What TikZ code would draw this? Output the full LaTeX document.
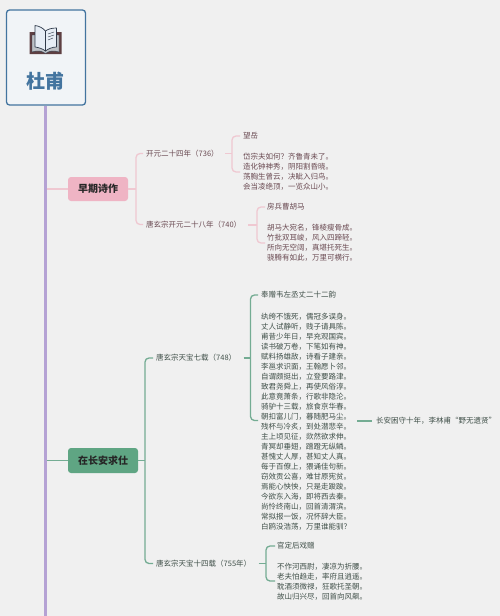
\documentclass[tikz,border=0pt]{standalone}
\usepackage{fontspec}
\setmainfont{Noto Sans CJK SC}
\definecolor{bgc}{HTML}{F0F0F0}
\definecolor{rootb}{HTML}{43749F}
\definecolor{rootf}{HTML}{F1F4F7}
\definecolor{trunkc}{HTML}{B5A2D4}
\definecolor{pinkl}{HTML}{EFC8D1}
\definecolor{pinkb}{HTML}{EFB4C4}
\definecolor{pinkt}{HTML}{6A4A52}
\definecolor{greenl}{HTML}{74AC93}
\definecolor{greenb}{HTML}{5FA583}
\definecolor{greent}{HTML}{3F4F48}
\definecolor{bookd}{HTML}{5E3F42}
\definecolor{bookl}{HTML}{E6EDF5}
\definecolor{bookk}{HTML}{2F3A4A}
\tikzset{
  x=1pt,y=1pt,
  branchbox/.style={rounded corners=3pt,font=\fontsize{10}{12}\selectfont\bfseries,text=black!85,anchor=center,inner sep=0pt},
  leaf/.style={anchor=west,inner sep=0pt,font=\fontsize{7.5}{10}\selectfont},
  poem/.style={anchor=north west,inner sep=0pt,align=left,font=\fontsize{7.5}{10}\selectfont},
  pinkline/.style={draw=pinkl,line width=1.3pt,rounded corners=4pt},
  greenline/.style={draw=greenl,line width=1.3pt,rounded corners=4pt},
}
\begin{document}
\begin{tikzpicture}
\useasboundingbox (0,0) rectangle (500,-616);
\fill[bgc] (0,0) rectangle (500,-616);
% nodes
\node[draw=rootb,fill=rootf,line width=1.3pt,rounded corners=3pt,minimum width=79pt,minimum height=95pt,inner sep=0pt] (root) at (46,-57.5) {};
\node[inner sep=0pt,text=rootb,font=\fontsize{19}{20}\selectfont\bfseries] (title) at (45.5,-81.5) {杜甫};
\coordinate (trunkend) at (45.5,-616);
\draw[trunkc,line width=2.2pt] (root.south -| trunkend) -- (trunkend);
\node[branchbox,fill=pinkb,minimum width=60pt,minimum height=24pt] (early) at (98,-189) {早期诗作};
\node[branchbox,fill=greenb,minimum width=70pt,minimum height=25pt] (changan) at (103,-460.5) {在长安求仕};
\coordinate (tearly) at (46.6,-189);
\coordinate (tchangan) at (46.6,-460.5);
\draw[pinkline] (tearly) -- (early);
\draw[greenline] (tchangan) -- (changan);
% early leaves
\begin{scope}[text=pinkt]
\node[leaf] (y736) at (146,-153.5) {开元二十四年（736）};
\node[leaf] (y740) at (146,-224.5) {唐玄宗开元二十八年（740）};
\node[leaf] (t1) at (243,-136) {望岳};
\node[poem] (p1) at (243,-153.3) {岱宗夫如何？齐鲁青未了。\\造化钟神秀，阴阳割昏晓。\\荡胸生曾云，决眦入归鸟。\\会当凌绝顶，一览众山小。};
\node[leaf] (t2) at (267,-207) {房兵曹胡马};
\node[poem] (p2) at (267,-224.3) {胡马大宛名，锋棱瘦骨成。\\竹批双耳峻，风入四蹄轻。\\所向无空阔，真堪托死生。\\骁腾有如此，万里可横行。};
\end{scope}
\begin{scope}[text=greent]
\node[leaf] (y748) at (156,-358) {唐玄宗天宝七载（748）};
\node[leaf] (y755) at (156,-563.5) {唐玄宗天宝十四载（755年）};
\node[leaf] (t3) at (261,-295) {奉赠韦左丞丈二十二韵};
\node[poem] (p3) at (261,-313) {纨绔不饿死，儒冠多误身。\\丈人试静听，贱子请具陈。\\甫昔少年日，早充观国宾。\\读书破万卷，下笔如有神。\\赋料扬雄敌，诗看子建亲。\\李邕求识面，王翰愿卜邻。\\自谓颇挺出，立登要路津。\\致君尧舜上，再使风俗淳。\\此意竟萧条，行歌非隐沦。\\骑驴十三载，旅食京华春。\\朝扣富儿门，暮随肥马尘。\\残杯与冷炙，到处潜悲辛。\\主上顷见征，欻然欲求伸。\\青冥却垂翅，蹭蹬无纵鳞。\\甚愧丈人厚，甚知丈人真。\\每于百僚上，猥诵佳句新。\\窃效贡公喜，难甘原宪贫。\\焉能心怏怏，只是走踆踆。\\今欲东入海，即将西去秦。\\尚怜终南山，回首清渭滨。\\常拟报一饭，况怀辞大臣。\\白鸥没浩荡，万里谁能驯？};
\node[leaf] (note) at (376,-421) {长安困守十年，李林甫“野无遗贤”};
\node[leaf] (t4) at (277,-546) {官定后戏赠};
\node[poem] (p4) at (277,-563) {不作河西尉，凄凉为折腰。\\老夫怕趋走，率府且逍遥。\\耽酒须微禄，狂歌托圣朝。\\故山归兴尽，回首向风飙。};
\end{scope}
% connector coordinates
\coordinate (e1) at (136,-189);
\draw[pinkline] (early.east) -- (e1);
\draw[pinkline] (y736.west) ++(-3,0) -| (e1) |- ([xshift=-3pt]y740.west);
\coordinate (b1) at (232,-153.5);
\coordinate (b1b) at (240,-172);
\draw[pinkline] (225,-153.5) -- (b1);
\draw[pinkline] ([xshift=-3pt]t1.west) -| (b1) |- (b1b);
\coordinate (b2) at (257,-225);
\coordinate (b2b) at (265,-243);
\draw[pinkline] (248,-225) -- (b2);
\draw[pinkline] ([xshift=-2pt]t2.west) -| (b2) |- (b2b);
\coordinate (e2) at (145,-460.5);
\draw[greenline] (changan.east) -- (e2);
\draw[greenline] ([xshift=-3pt]y748.west) -| (e2) |- ([xshift=-3pt]y755.west);
\coordinate (b3) at (250.5,-358);
\coordinate (b3b) at (258,-420.5);
\draw[greenline] (243.5,-358) -- (b3);
\draw[greenline] ([xshift=-3pt]t3.west) -| (b3) |- (b3b);
\draw[greenline] (357,-421) -- ([xshift=-4pt]note.west);
\coordinate (b4) at (266,-563.5);
\coordinate (b4b) at (275,-581);
\draw[greenline] (258.5,-563.5) -- (b4);
\draw[greenline] ([xshift=-2pt]t4.west) -| (b4) |- (b4b);
% book icon
\begin{scope}[line join=round]
\fill[bookd] (29.5,-32) -- (34,-32) -- (57,-32) -- (61.5,-32) -- (61.5,-54) -- (29.5,-54) -- cycle;
\fill[bookl!60!gray,draw=bookk,line width=.4pt] (32,-35) -- (32,-52) .. controls (38,-50) and (42,-51) .. (45.5,-53.5) .. controls (49,-51) and (53,-50) .. (59,-52) -- (59,-35) -- cycle;
\fill[bookl,draw=bookk,line width=.7pt] (45.5,-31) .. controls (43,-28) and (39,-26) .. (35,-25.5) -- (35,-47) .. controls (39,-47.5) and (43,-49) .. (45.5,-51) -- cycle;
\fill[bookl,draw=bookk,line width=.7pt] (45.5,-31) .. controls (48,-29) and (52,-28) .. (56.5,-28) -- (56.5,-47) .. controls (52,-47) and (48,-49) .. (45.5,-51) -- cycle;
\draw[bookk,line width=.4pt] (48,-34) -- (54,-32) (48,-37) -- (54,-35) (48,-40) -- (53,-38);
\end{scope}
\end{tikzpicture}
\end{document}
